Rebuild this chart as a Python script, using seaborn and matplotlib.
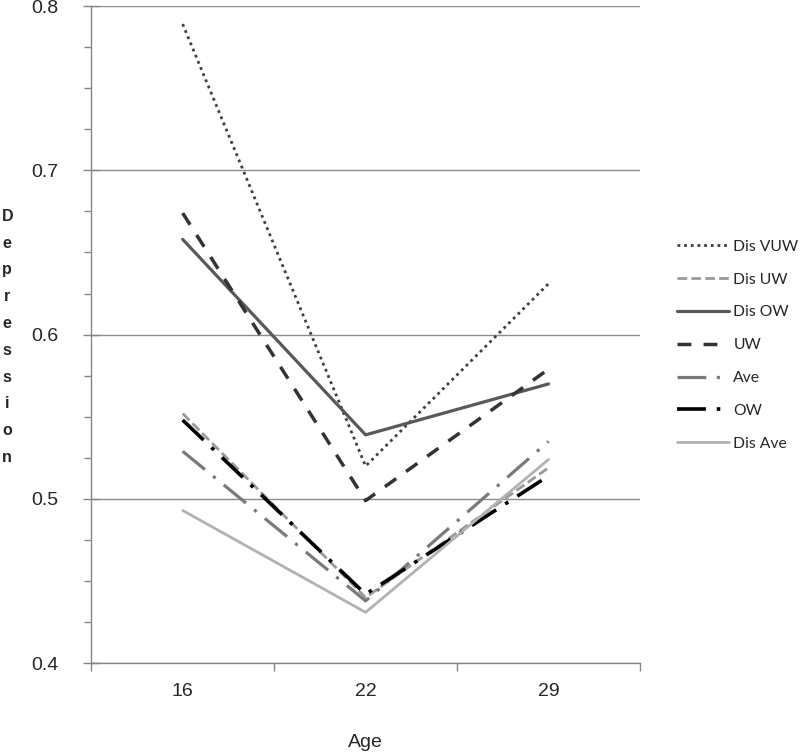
import pandas as pd
import seaborn as sns
import matplotlib.pyplot as plt
from matplotlib.ticker import MultipleLocator, FixedLocator

# -----------------------------
# datos
# -----------------------------
edades = ["16", "22", "29"]
series = ["Dis VUW", "Dis UW", "Dis OW", "UW", "Ave", "OW", "Dis Ave"]

dis_vuw = [0.789, 0.520, 0.631]
dis_uw = [0.552, 0.440, 0.519]
dis_ow = [0.658, 0.539, 0.570]
uw = [0.674, 0.499, 0.579]
ave = [0.529, 0.438, 0.535]
ow = [0.548, 0.442, 0.514]
dis_ave = [0.493, 0.431, 0.524]

valores = [dis_vuw, dis_uw, dis_ow, uw, ave, ow, dis_ave]

filas = []
for nombre, vals in zip(series, valores):
    for edad, v in zip(edades, vals):
        filas.append({"Age": edad, "Depression": v, "serie": nombre})
df = pd.DataFrame(filas)

# estilos de cada serie
colores = {"Dis VUW": "#3f3f3f", "Dis UW": "#999999", "Dis OW": "#595959",
           "UW": "#333333", "Ave": "#7a7a7a", "OW": "#000000", "Dis Ave": "#b2b2b2"}
trazos = {"Dis VUW": (1, 1.4), "Dis UW": (3.5, 1.5), "Dis OW": "",
          "UW": (4, 3.5), "Ave": (9, 3.3, 1, 3.3), "OW": (8, 3, 1, 3), "Dis Ave": ""}
grosor = {"Dis VUW": 2.0, "Dis UW": 2.0, "Dis OW": 2.3,
          "UW": 2.5, "Ave": 2.3, "OW": 2.6, "Dis Ave": 2.0}

# -----------------------------
# gráfico
# -----------------------------
sns.set_style("white")
plt.rcParams['font.family'] = ['Liberation Sans', 'DejaVu Sans']

fig = plt.figure(figsize=(8, 7.52), dpi=100)
ax = fig.add_axes([0.114, 0.118, 0.686, 0.874])

sns.lineplot(data=df, x="Age", y="Depression", hue="serie", style="serie",
             hue_order=series, style_order=series, palette=colores,
             dashes=trazos, legend=False, ax=ax, sort=False)

for linea, nombre in zip(ax.lines, series):
    linea.set_linewidth(grosor[nombre])
    linea.set_label(nombre)

ax.set_xlim(-0.5, 2.5)
ax.set_ylim(0.4, 0.8)

# eje y
ax.yaxis.set_major_locator(MultipleLocator(0.1))
ax.yaxis.set_minor_locator(MultipleLocator(0.025))
ax.set_yticklabels([f"{v:.1f}" for v in ax.get_yticks()])
ax.tick_params(axis="y", which="major", direction="inout", length=11,
               width=1, color="#868686", labelsize=14, pad=18, left=True)
ax.tick_params(axis="y", which="minor", direction="out", length=5,
               width=1, color="#868686", left=True)
ax.grid(axis="y", which="major", color="#8c8c8c", lw=1)

# eje x: etiquetas en el centro, marcas entre categorías
ax.xaxis.set_major_locator(FixedLocator([0, 1, 2]))
ax.set_xticklabels(edades)
ax.xaxis.set_minor_locator(FixedLocator([-0.5, 0.5, 1.5, 2.5]))
ax.tick_params(axis="x", which="major", length=0, labelsize=14, pad=14)
ax.tick_params(axis="x", which="minor", direction="out", length=6,
               width=1, color="#868686", bottom=True)

for lado in ["top", "right"]:
    ax.spines[lado].set_visible(False)
for lado in ["left", "bottom"]:
    ax.spines[lado].set_color("#868686")
    ax.spines[lado].set_linewidth(1)

ax.set_xlabel("Age", fontsize=14, labelpad=25)
ax.set_ylabel("")
fig.text(0.009, 0.552, "\n".join("Depression"), ha="center", va="center",
         fontsize=11.5, fontweight="bold", linespacing=1.98)

fig.legend(handles=ax.lines, labels=series, loc="center left",
           bbox_to_anchor=(0.846, 0.541), frameon=False,
           prop={"family": ["Lato", "DejaVu Sans"], "size": 11.3},
           handlelength=3.3, handletextpad=0.3, labelspacing=1.2,
           borderpad=0, borderaxespad=0)

fig.savefig("out.png", dpi=100)
